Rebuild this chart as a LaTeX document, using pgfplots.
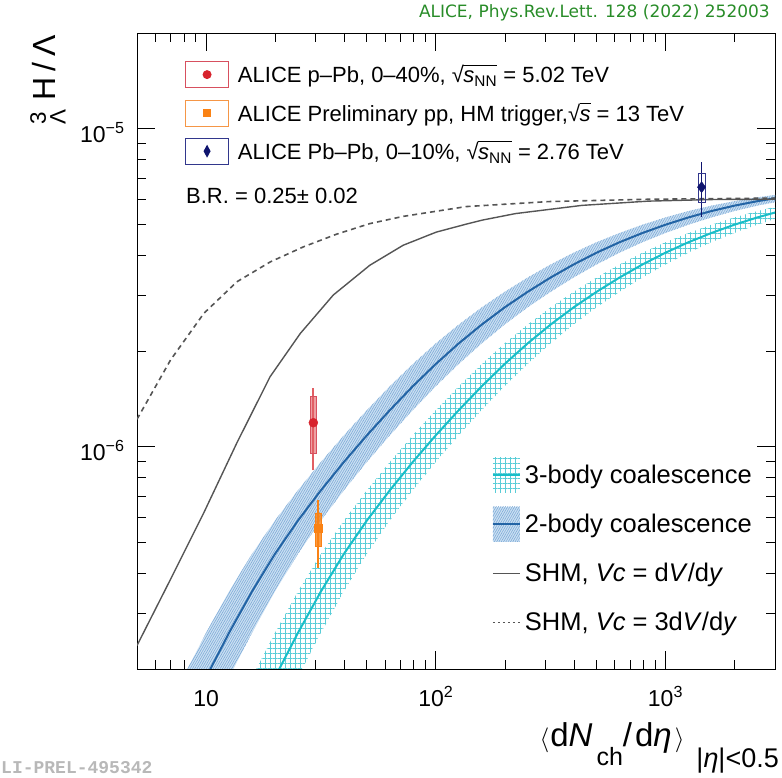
\documentclass[border=0pt]{standalone}
\usepackage{amsmath}
\usepackage{fontspec}
\setmainfont{Liberation Sans}
\newfontfamily\dejavu{DejaVu Sans}
\newfontfamily\monof{Liberation Mono}
\usepackage{pgfplots}
\usepackage{pgfplotstable}
\pgfplotsset{compat=1.18}
\usepgfplotslibrary{fillbetween}
\usetikzlibrary{patterns.meta}

\newcommand{\rootof}[1]{√\kern-0.6pt\vbox{\hrule height 0.8pt\hbox{\vphantom{√}#1}}}

\definecolor{twoline}{RGB}{35,100,165}
\definecolor{twofill}{RGB}{205,225,243}
\definecolor{twohatch}{RGB}{125,170,215}
\definecolor{threeline}{RGB}{25,190,200}
\definecolor{threehatch}{RGB}{90,205,215}
\definecolor{shm}{RGB}{85,85,85}
\definecolor{alicered}{RGB}{215,35,45}
\definecolor{statred}{RGB}{225,95,100}
\definecolor{boxred}{RGB}{215,80,95}
\definecolor{aliceorange}{RGB}{250,130,20}
\definecolor{boxorange}{RGB}{245,150,70}
\definecolor{alicenavy}{RGB}{15,20,110}
\definecolor{boxnavy}{RGB}{50,55,140}
\definecolor{alicegreen}{RGB}{40,140,40}

% coalescence curve: y at grid x; xa..xf = x grid shifted by -1..+4 steps (0.1 decade)
\pgfplotstableread{
xa    xb    xc    xd    xe    xf    y
6.310 7.943 10    12.59 15.85 19.95 1.349e-7
7.943 10    12.59 15.85 19.95 25.12 1.884e-7
10    12.59 15.85 19.95 25.12 31.62 2.600e-7
12.59 15.85 19.95 25.12 31.62 39.81 3.508e-7
15.85 19.95 25.12 31.62 39.81 50.12 4.603e-7
19.95 25.12 31.62 39.81 50.12 63.10 5.861e-7
25.12 31.62 39.81 50.12 63.10 79.43 7.295e-7
31.62 39.81 50.12 63.10 79.43 100   8.954e-7
39.81 50.12 63.10 79.43 100   125.9 1.086e-6
50.12 63.10 79.43 100   125.9 158.5 1.303e-6
63.10 79.43 100   125.9 158.5 199.5 1.549e-6
79.43 100   125.9 158.5 199.5 251.2 1.820e-6
100   125.9 158.5 199.5 251.2 316.2 2.113e-6
125.9 158.5 199.5 251.2 316.2 398.1 2.421e-6
158.5 199.5 251.2 316.2 398.1 501.2 2.742e-6
199.5 251.2 316.2 398.1 501.2 631.0 3.069e-6
251.2 316.2 398.1 501.2 631.0 794.3 3.404e-6
316.2 398.1 501.2 631.0 794.3 1000  3.741e-6
398.1 501.2 631.0 794.3 1000  1259  4.074e-6
501.2 631.0 794.3 1000  1259  1585  4.395e-6
631.0 794.3 1000  1259  1585  1995  4.699e-6
794.3 1000  1259  1585  1995  2512  4.989e-6
1000  1259  1585  1995  2512  3162  5.260e-6
1259  1585  1995  2512  3162  3981  5.508e-6
1585  1995  2512  3162  3981  5012  5.728e-6
1995  2512  3162  3981  5012  6310  5.916e-6
2512  3162  3981  5012  6310  7943  6.081e-6
3162  3981  5012  6310  7943  10000 6.223e-6
3981  5012  6310  7943  10000 12590 6.353e-6
}\coal

\pgfplotstableread{
x y
5.0   2.37e-7
7.0   3.83e-7
9.77  6.20e-7
13.6  1.027e-6
19.0  1.661e-6
25.7  2.27e-6
35.8  3.00e-6
51.6  3.72e-6
72.1  4.30e-6
100.5 4.73e-6
135.6 5.01e-6
159.6 5.16e-6
222.8 5.41e-6
433.5 5.74e-6
844   5.92e-6
1643  5.99e-6
3000  6.00e-6
}\shmone

\pgfplotstableread{
x y
5.0   1.22e-6
7.0   1.874e-6
9.77  2.625e-6
13.6  3.30e-6
19.0  3.81e-6
26.5  4.25e-6
37.0  4.66e-6
51.6  5.03e-6
72.1  5.30e-6
135.6 5.69e-6
310   5.90e-6
844   6.00e-6
3000  6.05e-6
}\shmthree

\begin{document}
\begin{tikzpicture}

% ---------------- models ----------------
\begin{axis}[
  at={(137pt,109pt)}, anchor=south west,
  scale only axis, width=638pt, height=636pt,
  xmode=log, ymode=log,
  xmin=5, xmax=3000, ymin=2e-7, ymax=2e-5,
  xtick={10,100,1000},
  xticklabels={10,10\textsuperscript{2},10\textsuperscript{3}},
  ytick={1e-6,1e-5},
  yticklabels={10\textsuperscript{−6},10\textsuperscript{−5}},
  minor xtick={6,7,8,9,20,30,40,50,60,70,80,90,200,300,400,500,600,700,800,900,2000},
  minor ytick={3e-7,4e-7,5e-7,6e-7,7e-7,8e-7,9e-7,2e-6,3e-6,4e-6,5e-6,6e-6,7e-6,8e-6,9e-6},
  major tick length=18pt, minor tick length=9pt,
  tick style={black, line width=0.6pt},
  axis line style={black, line width=0.8pt},
  tick label style={font=\fontsize{23}{23}\selectfont},
  xticklabel style={anchor=base, yshift=-38pt},
  yticklabel style={anchor=base east, xshift=-9pt, yshift=-14pt},
  legend cell align=left,
  legend style={at={(0.556,0.3325)}, anchor=north west, draw=none, fill=none,
    inner sep=0pt, row sep=14pt, font=\fontsize{25.5}{30}\selectfont,
    nodes={inner sep=2pt},
    /tikz/every odd column/.append style={column sep=2pt}}]
  % 2-body band
  \addplot[name path=twoU, draw=none, forget plot] table[x=xa, y=y] {\coal};
  \addplot[name path=twoL, draw=none, forget plot] table[x=xc, y=y] {\coal};
  \addplot[fill=twofill, draw=none, forget plot] fill between[of=twoU and twoL];
  \addplot[pattern={Lines[angle=60,distance=2pt,line width=0.6pt]}, pattern color=twohatch, draw=none, forget plot] fill between[of=twoU and twoL];
  % 3-body band
  \addplot[name path=thrU, draw=none, forget plot] table[x=xd, y=y] {\coal};
  \addplot[name path=thrL, draw=none, forget plot] table[x=xf, y=y] {\coal};
  \addplot[pattern={Hatch[distance=5pt,line width=0.6pt]}, pattern color=threehatch, draw=none, forget plot] fill between[of=thrU and thrL];
  % lines
  \addplot[threeline, line width=2pt, forget plot] table[x=xe, y=y] {\coal};
  \addplot[twoline, line width=2pt, forget plot] table[x=xb, y=y] {\coal};
  \addplot[shm, line width=1.4pt, forget plot] table[x=x, y=y] {\shmone};
  \addplot[shm, line width=1.6pt, dash pattern=on 5pt off 4pt, forget plot] table[x=x, y=y] {\shmthree};

  \addlegendimage{legend image code/.code={
    \path[draw=none, fill=none] (0pt,-17.5pt) rectangle (27pt,17.5pt);
    \path[draw=none, pattern={Hatch[distance=5pt,line width=0.6pt]}, pattern color=threehatch] (0pt,-17.5pt) rectangle (27pt,17.5pt);
    \path[draw=threeline, line width=2pt] (0pt,0pt) -- (27pt,0pt);}}
  \addlegendentry{3-body coalescence}
  \addlegendimage{legend image code/.code={
    \path[draw=none, fill=none] (0pt,-17.5pt) rectangle (27pt,17.5pt);
    \path[draw=none, fill=twofill] (0pt,-17.5pt) rectangle (27pt,17.5pt);
    \path[draw=none, pattern={Lines[angle=60,distance=2pt,line width=0.6pt]}, pattern color=twohatch] (0pt,-17.5pt) rectangle (27pt,17.5pt);
    \path[draw=twoline, line width=2pt] (0pt,0pt) -- (27pt,0pt);}}
  \addlegendentry{2-body coalescence}
  \addlegendimage{legend image code/.code={
    \path[draw=none, fill=none] (0pt,-17.5pt) rectangle (27pt,17.5pt);
    \path[draw=shm, line width=1.4pt] (0pt,0pt) -- (27pt,0pt);}}
  \addlegendentry{SHM, \textit{Vc} = d\textit{V}/d\textit{y}}
  \addlegendimage{legend image code/.code={
    \path[draw=none, fill=none] (0pt,-17.5pt) rectangle (27pt,17.5pt);
    \path[draw=shm, line width=1.4pt, dash pattern=on 2.5pt off 2.5pt] (0pt,0pt) -- (27pt,0pt);}}
  \addlegendentry{SHM, \textit{Vc} = 3d\textit{V}/d\textit{y}}
\end{axis}

% ---------------- data ----------------
\begin{axis}[
  at={(137pt,109pt)}, anchor=south west,
  scale only axis, width=638pt, height=636pt,
  xmode=log, ymode=log,
  xmin=5, xmax=3000, ymin=2e-7, ymax=2e-5,
  hide axis,
  legend cell align=left,
  legend style={at={(0.0752,0.956)}, anchor=north west, draw=none, fill=none,
    inner sep=0pt, row sep=11.5pt, font=\fontsize{22}{26}\selectfont,
    nodes={inner sep=2pt},
    /tikz/every odd column/.append style={column sep=7pt}}]
  % p-Pb
  \addplot[statred, line width=2pt, forget plot] coordinates {(29.3,8.43e-7) (29.3,1.53e-6)};
  \addplot[draw=boxred, fill=statred, fill opacity=0.6, line width=0.8pt, forget plot]
     coordinates {(28.44,9.51e-7) (30.18,9.51e-7) (30.18,1.44e-6) (28.44,1.44e-6) (28.44,9.51e-7)};
  \addplot[only marks, mark=*, mark size=4.5pt, alicered, forget plot] coordinates {(29.3,1.19e-6)};
  % pp
  \addplot[aliceorange, line width=2pt, forget plot] coordinates {(30.8,4.17e-7) (30.8,6.82e-7)};
  \addplot[draw=aliceorange, fill=aliceorange, fill opacity=0.8, line width=0.6pt, forget plot]
     coordinates {(29.9,4.87e-7) (31.7,4.87e-7) (31.7,6.19e-7) (29.9,6.19e-7) (29.9,4.87e-7)};
  \addplot[only marks, mark=square*, mark size=4pt, aliceorange, forget plot] coordinates {(30.8,5.56e-7)};
  % Pb-Pb
  \addplot[alicenavy, line width=1.2pt, forget plot] coordinates {(1437,5.27e-6) (1437,7.84e-6)};
  \addplot[draw=boxnavy, line width=0.9pt, forget plot]
     coordinates {(1388,5.87e-6) (1488,5.87e-6) (1488,7.21e-6) (1388,7.21e-6) (1388,5.87e-6)};
  \addplot[only marks, mark=diamond*, mark size=5.5pt, alicenavy, forget plot] coordinates {(1437,6.55e-6)};

  \addlegendimage{legend image code/.code={
    \path[draw=boxred, line width=0.8pt] (0pt,-13pt) rectangle (43pt,13pt);
    \path[draw=none, fill=alicered] (21.5pt,0pt) circle (4.5pt);}}
  \addlegendentry{ALICE p–Pb, 0–40\%, \rootof{\textit{s}\textsubscript{NN}} = 5.02 TeV}
  \addlegendimage{legend image code/.code={
    \path[draw=boxorange, line width=0.8pt] (0pt,-13pt) rectangle (43pt,13pt);
    \path[draw=none, fill=aliceorange] (17.5pt,-4pt) rectangle (25.5pt,4pt);}}
  \addlegendentry{ALICE Preliminary pp, HM trigger,\rootof{\textit{s}} = 13 TeV}
  \addlegendimage{legend image code/.code={
    \path[draw=boxnavy, line width=0.8pt] (0pt,-13pt) rectangle (43pt,13pt);
    \path[draw=none, fill=alicenavy] (21.5pt,6.5pt) -- (25pt,0pt) -- (21.5pt,-6.5pt) -- (18pt,0pt) -- cycle;}}
  \addlegendentry{ALICE Pb–Pb, 0–10\%, \rootof{\textit{s}\textsubscript{NN}} = 2.76 TeV}
\end{axis}

\node[anchor=base west, inner sep=0pt, font=\fontsize{22}{26}\selectfont] at (186pt,574pt) {B.R. = 0.25± 0.02};
\node[anchor=east, inner sep=0pt, text=alicegreen, font=\dejavu\fontsize{17}{20}\selectfont] at (770pt,765pt) {ALICE, Phys.Rev.Lett. 128 (2022) 252003};
\node[anchor=west, inner sep=0pt, text=black!28, font=\monof\bfseries\fontsize{18}{18}\selectfont] at (1pt,10pt) {LI-PREL-495342};
\node[anchor=base east, inner sep=0pt, font=\fontsize{33}{36}\selectfont] at (779pt,31pt)
  {$\langle$\hspace{1pt}d\textit{N}\hspace{4pt}\raisebox{-19pt}{\fontsize{25}{25}\selectfont ch}\hspace{0pt}/\hspace{3pt}d\textit{η}\hspace{3pt}$\rangle$\hspace{12pt}\raisebox{-21pt}{\fontsize{27}{27}\selectfont |\textit{η}|<0.5}};
\node[rotate=90, anchor=base east, inner sep=0pt, font=\fontsize{32}{36}\selectfont] at (55pt,743pt)
  {${}^{\text{3}}_{\text{Λ}}$\hspace{8pt}H\hspace{6pt}/\hspace{6pt}Λ};
\pgfresetboundingbox
\useasboundingbox (0,0) rectangle (782pt,778pt);
\end{tikzpicture}
\end{document}
